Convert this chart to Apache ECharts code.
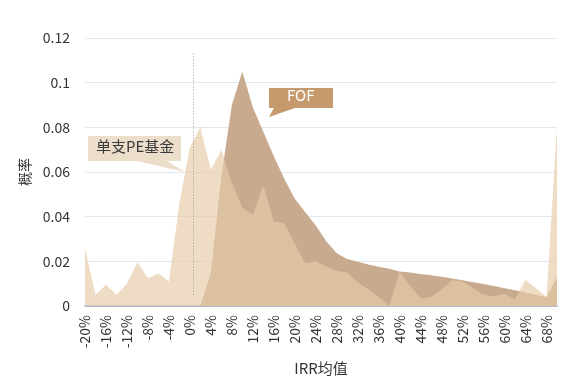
<!DOCTYPE html>
<html>
<head>
<meta charset="utf-8">
<script src="https://cdn.jsdelivr.net/npm/echarts@6/dist/echarts.min.js"></script>
<style>
html, body { margin: 0; padding: 0; background: #fff; }
#box1 { width: 580px; height: 383px; }
</style>
</head>
<body>
<div id="box1"></div>
<script>
// IRR均值 (%), 每 2% 一个点
var irr = [-20, -18, -16, -14, -12, -10, -8, -6, -4, -2, 0, 2, 4, 6, 8, 10, 12, 14, 16, 18, 20, 22,
    24, 26, 28, 30, 32, 34, 36, 38, 40, 42, 44, 46, 48, 50, 52, 54, 56, 58, 60, 62, 64, 66, 68, 70];

// 单支PE基金 概率
var pe = [0.026, 0.005, 0.0095, 0.005, 0.010, 0.0196, 0.0124, 0.0147, 0.011, 0.046, 0.071, 0.080,
    0.061, 0.070, 0.055, 0.044, 0.041, 0.054, 0.038, 0.037, 0.028, 0.019, 0.020, 0.0177, 0.0158,
    0.015, 0.0105, 0.0075, 0.004, 0, 0.0155, 0.009, 0.0035, 0.004, 0.0075, 0.0115, 0.011, 0.008,
    0.005, 0.0042, 0.0055, 0.003, 0.0117, 0.008, 0.004, 0.080];

// FOF 概率
var fof = [0, 0, 0, 0, 0, 0, 0, 0, 0, 0, 0, 0, 0.015, 0.058, 0.090, 0.105, 0.089, 0.078, 0.067,
    0.057, 0.048, 0.042, 0.036, 0.029, 0.0236, 0.021, 0.0198, 0.0186, 0.0176, 0.0167, 0.0155,
    0.015, 0.0143, 0.0138, 0.0131, 0.0123, 0.0115, 0.0106, 0.0099, 0.009, 0.008, 0.007, 0.006,
    0.005, 0.004, 0.013];

var yTicks = [0, 0.02, 0.04, 0.06, 0.08, 0.1, 0.12];

function pairs(vals) {
    return irr.map(function (x, i) { return [x, vals[i]]; });
}

var dom = document.getElementById("box1");
var myChart = echarts.init(dom, null, { renderer: 'canvas' });
var font = "'Noto Sans CJK SC', 'Open Sans', sans-serif";

var option = {
    animation: false,
    backgroundColor: '#fff',
    textStyle: { fontFamily: font },
    grid: { left: 85, right: 23, top: 38, bottom: 77, containLabel: false, outerBoundsMode: 'none' },
    xAxis: {
        type: 'value',
        min: -20,
        max: 70,
        interval: 4,
        name: 'IRR均值',
        nameLocation: 'middle',
        nameGap: 55,
        nameTextStyle: { color: '#333', fontSize: 15, fontFamily: font },
        axisLine: { show: true, onZero: false, lineStyle: { color: '#b3bccb', width: 2 } },
        axisTick: { show: false },
        splitLine: { show: false },
        axisLabel: {
            rotate: 90,
            margin: 9,
            color: '#333',
            fontSize: 14,
            showMaxLabel: false,
            formatter: function (v) { return v + '%'; }
        }
    },
    yAxis: {
        type: 'value',
        min: yTicks[0],
        max: yTicks[yTicks.length - 1],
        interval: 0.02,
        name: '概率',
        nameLocation: 'middle',
        nameGap: 53,
        nameTextStyle: { color: '#333', fontSize: 14, fontFamily: font },
        axisLine: { show: false },
        axisTick: { show: false },
        axisLabel: { color: '#333', fontSize: 14, margin: 15 },
        splitLine: { lineStyle: { color: '#e2e7ee', width: 1 } }
    },
    series: [
        {
            name: 'FOF',
            type: 'line',
            data: pairs(fof),
            showSymbol: false,
            lineStyle: { width: 0 },
            areaStyle: { color: '#c8aa8f', opacity: 1 },
            z: 2
        },
        {
            name: '单支PE基金',
            type: 'line',
            data: pairs(pe),
            showSymbol: false,
            lineStyle: { width: 0 },
            areaStyle: { color: 'rgba(230,204,170,0.68)', opacity: 1 },
            z: 3,
            markLine: {
                silent: true,
                symbol: 'none',
                label: { show: false },
                lineStyle: { color: '#9a9a9a', type: [1, 2], width: 1 },
                data: [[{ coord: [0.7, 0.113] }, { coord: [0.7, 0.004] }]]
            }
        }
    ],
    graphic: [
        {
            type: 'polygon',
            shape: { points: [[88, 136], [181, 136], [181, 161], [167, 161], [185, 172], [137, 161], [88, 161]] },
            style: { fill: '#ecdeca' },
            z: 10
        },
        {
            type: 'text',
            left: 96, top: 139,
            style: { text: '单支PE基金', fill: '#3a3a3a', font: '15px ' + font },
            z: 11
        },
        {
            type: 'polygon',
            shape: { points: [[269, 88], [333, 88], [333, 108], [295, 108], [269, 117], [274, 108], [269, 108]] },
            style: { fill: '#c69a6c' },
            z: 10
        },
        {
            type: 'text',
            left: 287, top: 88,
            style: { text: 'FOF', fill: '#fff', font: '15px ' + font },
            z: 11
        }
    ]
};

if (option && typeof option === "object") {
    myChart.setOption(option, true);
}
</script>
</body>
</html>
